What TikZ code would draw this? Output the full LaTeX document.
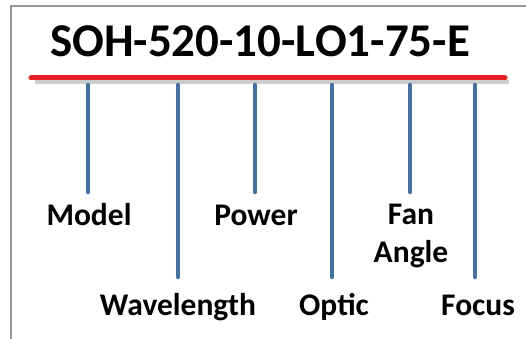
\documentclass[tikz,border=0pt]{standalone}
\usepackage{fontspec}
\setmainfont{Carlito}
\usepackage{xcolor}
\usetikzlibrary{positioning}

\definecolor{barred}{RGB}{232,32,38}
\definecolor{tickblue}{RGB}{65,113,167}
\definecolor{frame}{RGB}{150,150,150}

\begin{document}
\begin{tikzpicture}[
  x=1pt, y=-1pt,
  title/.style={anchor=base, font=\fontsize{47}{50}\selectfont\bfseries, inner sep=0pt},
  lbl/.style={anchor=base, font=\fontsize{31.5}{38}\selectfont\bfseries, inner sep=0pt, align=center},
  bar/.style={line width=5pt, line cap=round, draw=barred},
  shadow/.style={line width=4pt, draw=black!20},
  tick/.style={line width=4.5pt, line cap=round, draw=tickblue},
]
  \useasboundingbox (0,0) rectangle (526,339);
  % frame
  \draw[frame, line width=1.2pt] (11,339) -- (11,6) -- (526,6);

  \node[title] (code) at (260,57) {SOH-520-10-LO1-75-E};

  % underline with shadow
  \coordinate (bl) at (31,78);
  \coordinate (br) at (505,78);
  \draw[shadow] ([shift={(4,4)}]bl) -- ([shift={(4,4)}]br);
  \draw[bar] (bl) -- (br);

  % labels
  \node[lbl] (model) at (89,225)  {Model};
  \node[lbl] (wave)  at (178,315) {Wavelength};
  \node[lbl] (power) at (256,225) {Power};
  \node[lbl] (optic) at (334,315) {Optic};
  \node[lbl] (fan)   at (411,262) {Fan\\Angle};
  \node[lbl] (focus) at (478,315) {Focus};

  % ticks
  \coordinate (t1) at (88,85);  \coordinate (b1) at (88,192);
  \coordinate (t2) at (178,85); \coordinate (b2) at (178,277);
  \coordinate (t3) at (255,85); \coordinate (b3) at (255,192);
  \coordinate (t4) at (332,85); \coordinate (b4) at (332,277);
  \coordinate (t5) at (410,85); \coordinate (b5) at (410,192);
  \coordinate (t6) at (475,85); \coordinate (b6) at (475,277);
  \foreach \i in {1,...,6}
    \draw[tick] (t\i) -- (b\i);
\end{tikzpicture}
\end{document}
